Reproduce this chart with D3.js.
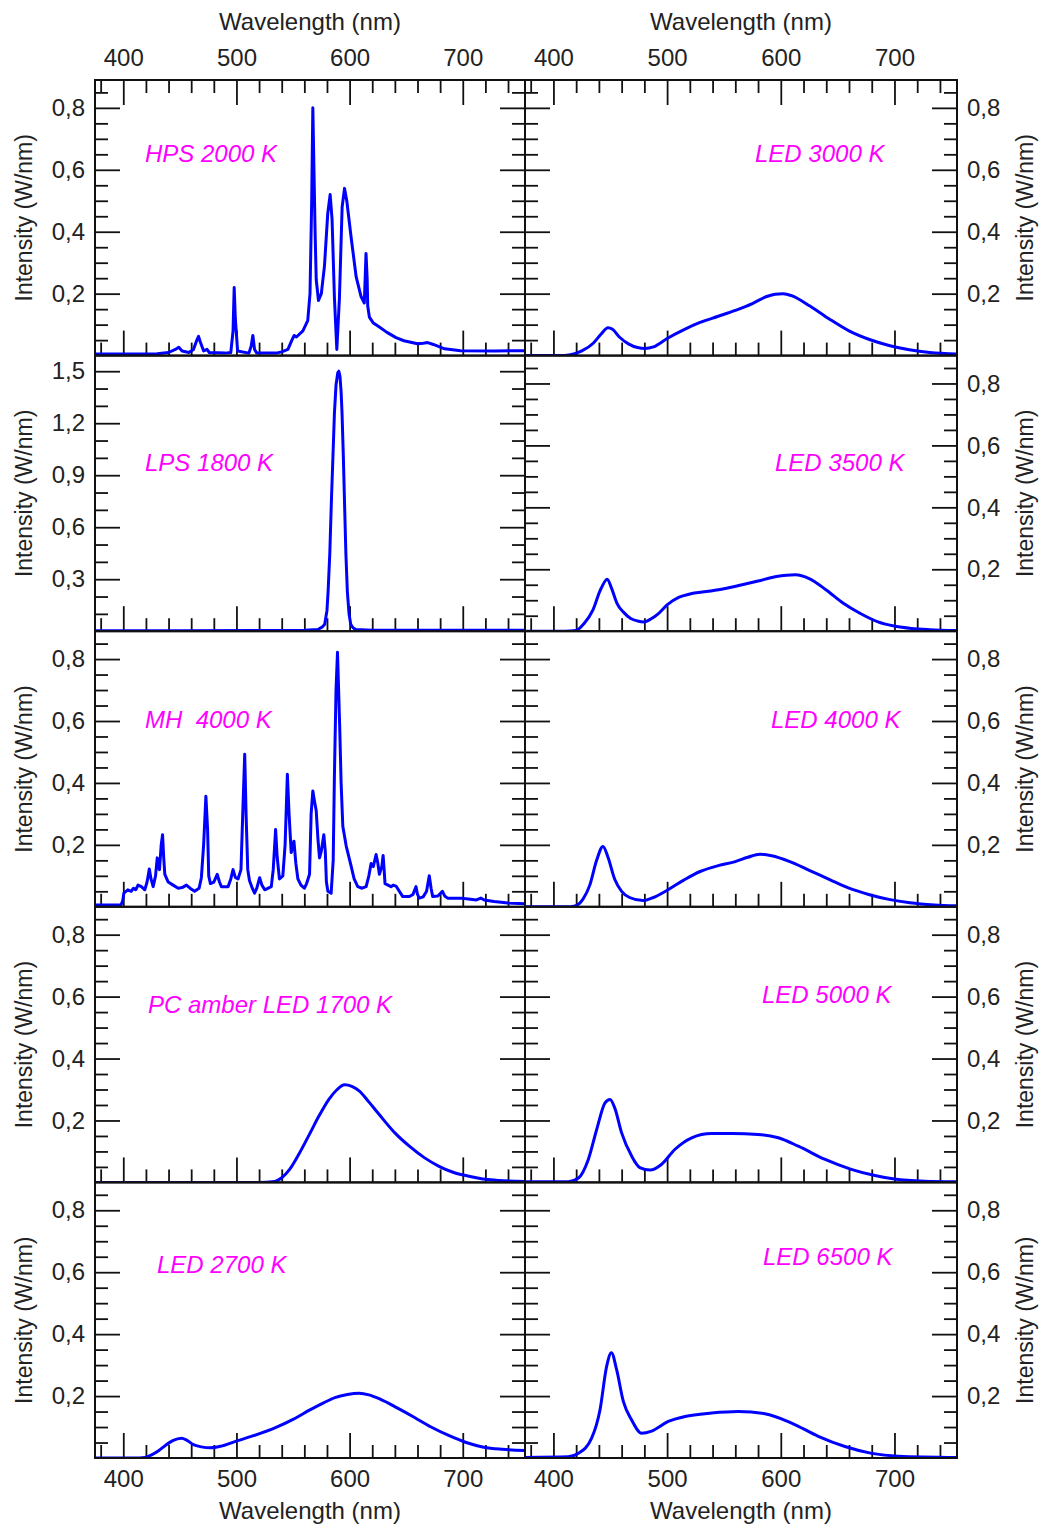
<!DOCTYPE html>
<html>
<head>
<meta charset="utf-8">
<script src="https://cdn.jsdelivr.net/npm/d3@7"></script>
<style>
  body { margin: 0; background: #fff; }
  svg text { font-family: "Liberation Sans", Arial, sans-serif; fill: #222; }
</style>
</head>
<body>
<div id="chart"></div>
<script>
// spectra: [wavelength nm, intensity W/nm]
var hps2000 = [[375,0.005],[400,0.005],[430,0.006],[440,0.01],[446,0.02],[449,0.027],[452,0.015],[458,0.01],[462,0.02],[465,0.05],[466.5,0.062],[468,0.045],[471,0.015],[474,0.02],[476,0.01],[490,0.008],[495,0.01],[497,0.08],[498,0.22],[499,0.12],[501,0.015],[511,0.008],[513,0.03],[514.5,0.065],[516,0.02],[518,0.008],[535,0.008],[540,0.012],[545.5,0.02],[549,0.05],[551,0.065],[553,0.06],[558.7,0.08],[563,0.113],[565,0.2],[566.5,0.5],[567.5,0.8],[568.5,0.6],[569.5,0.4],[570.5,0.245],[572.5,0.178],[575,0.2],[577.8,0.29],[580.7,0.46],[582.8,0.52],[584.5,0.44],[586.6,0.185],[588.7,0.02],[591,0.185],[593.4,0.48],[595.5,0.54],[597.5,0.5],[601.3,0.383],[605.8,0.254],[610.2,0.19],[613,0.17],[614.5,0.33],[615.5,0.25],[616,0.16],[617.5,0.124],[621,0.105],[626.3,0.092],[633,0.075],[641,0.058],[648,0.048],[654,0.043],[660,0.038],[665,0.04],[669,0.042],[674,0.036],[684,0.022],[698,0.016],[728,0.015],[755,0.016]];

var lps1800 = [[375,0.003],[450,0.003],[560,0.005],[572,0.01],[576,0.025],[578,0.04],[580,0.12],[581,0.23],[582.5,0.45],[584,0.77],[585.5,1.05],[586.6,1.26],[588,1.42],[589.5,1.49],[590.5,1.5],[591.5,1.47],[592.5,1.38],[593.3,1.26],[594.5,1.0],[595.4,0.77],[596.7,0.45],[598,0.23],[599.5,0.1],[601,0.04],[603,0.02],[605.5,0.01],[620,0.006],[700,0.005],[755,0.006]];

var mh4000 = [[375,0.006],[398,0.006],[399.5,0.02],[400.5,0.044],[404,0.055],[407,0.05],[409,0.06],[411,0.055],[413,0.07],[416,0.065],[419,0.055],[421,0.08],[423,0.122],[424.5,0.09],[426.4,0.065],[428.5,0.1],[430,0.158],[431,0.13],[432,0.12],[433.5,0.2],[434.7,0.233],[435.7,0.16],[436.7,0.105],[439.7,0.08],[444,0.07],[448.5,0.06],[452,0.062],[455.8,0.07],[459,0.06],[463,0.05],[467,0.06],[469,0.094],[471,0.2],[473,0.357],[474.5,0.25],[475.5,0.1],[477,0.075],[480,0.08],[483,0.105],[485,0.08],[486.7,0.065],[492.6,0.065],[495,0.09],[497,0.12],[499,0.095],[501.4,0.09],[504,0.12],[506,0.35],[507.3,0.493],[508.5,0.3],[510,0.12],[511.5,0.085],[514,0.06],[516,0.044],[518,0.06],[520.5,0.094],[522.5,0.07],[525,0.055],[530.8,0.065],[532.5,0.12],[534.6,0.25],[536,0.16],[538,0.09],[541,0.1],[543,0.2],[545,0.428],[546.5,0.3],[548.4,0.175],[550.8,0.212],[552.5,0.14],[554.3,0.09],[557,0.07],[560,0.06],[562,0.075],[564.6,0.105],[566,0.3],[567.5,0.374],[569,0.34],[570.5,0.31],[572,0.22],[573.4,0.158],[575,0.18],[577.2,0.233],[578.5,0.18],[579.5,0.08],[580.8,0.05],[583.7,0.044],[585.5,0.15],[586.6,0.43],[588,0.7],[589.3,0.822],[590.3,0.7],[591.3,0.574],[592.5,0.4],[594,0.26],[597,0.196],[601.3,0.132],[604,0.09],[607.2,0.065],[611,0.06],[614.6,0.065],[617,0.1],[619,0.14],[621,0.13],[623.4,0.169],[625,0.14],[626.3,0.105],[628.5,0.13],[629.6,0.166],[630.5,0.12],[631.3,0.075],[636.6,0.065],[638.5,0.07],[641,0.067],[644,0.05],[647,0.033],[652.8,0.033],[656,0.04],[658.7,0.065],[660,0.04],[661.6,0.028],[665,0.032],[668,0.05],[670.4,0.1],[672,0.06],[673.4,0.033],[678,0.035],[682,0.05],[684,0.035],[686.6,0.028],[698,0.028],[705,0.025],[712,0.022],[716,0.028],[719,0.022],[727.7,0.017],[740,0.012],[755,0.01]];

var pcAmber1700 = [[375,0],[520,0],[533.7,0.003],[540,0.015],[547,0.042],[555,0.09],[564.6,0.156],[573,0.215],[582,0.27],[589,0.3],[595.5,0.315],[602,0.31],[608.7,0.295],[617,0.26],[626,0.22],[640,0.16],[652.8,0.117],[666,0.08],[679,0.052],[692,0.032],[705.7,0.02],[720,0.01],[732,0.006],[755,0.003]];

var led2700 = [[375,0],[410,0],[419,0.002],[425,0.01],[431.5,0.024],[437,0.04],[443.7,0.056],[451.3,0.064],[456,0.058],[462,0.043],[469,0.036],[477,0.033],[486,0.038],[498.6,0.053],[515,0.072],[535,0.099],[550,0.125],[565.8,0.157],[577,0.178],[587,0.195],[598,0.205],[608.5,0.209],[617,0.204],[627,0.19],[642,0.162],[657.4,0.131],[672,0.1],[688,0.072],[703,0.05],[718.5,0.035],[735,0.028],[755,0.024]];

var led3000 = [[375,0],[405,0],[415,0.003],[425,0.015],[435,0.04],[442,0.07],[448,0.09],[452,0.085],[458,0.06],[466,0.038],[474,0.026],[480.5,0.023],[488,0.028],[500,0.055],[514,0.082],[529,0.107],[545,0.127],[560,0.146],[575,0.168],[587,0.19],[595,0.198],[602,0.2],[610,0.193],[625.6,0.16],[642,0.12],[660,0.08],[678,0.052],[696,0.032],[713,0.019],[731,0.01],[755,0.005]];

var led3500 = [[375,0],[410,0],[419.6,0.002],[427,0.025],[434.7,0.068],[441,0.13],[447.4,0.168],[451,0.14],[455.9,0.09],[462,0.06],[468,0.041],[474,0.033],[480,0.03],[486,0.04],[492.4,0.057],[500,0.085],[510.6,0.11],[520,0.12],[534.7,0.128],[550,0.137],[565,0.149],[580,0.162],[595,0.176],[605,0.181],[612.7,0.182],[625,0.17],[640,0.133],[655,0.09],[670,0.057],[685.5,0.03],[700.6,0.016],[715,0.009],[731,0.005],[755,0.002]];

var led4000 = [[375,0],[412,0],[419,0.003],[426,0.025],[432,0.07],[438,0.15],[443.6,0.195],[448,0.16],[454,0.088],[460,0.05],[467,0.03],[478.8,0.02],[488,0.03],[500.8,0.055],[515,0.087],[529,0.114],[545,0.133],[560,0.146],[571,0.16],[581.7,0.17],[592,0.165],[608,0.146],[625,0.118],[643,0.088],[660,0.06],[678,0.039],[695,0.024],[713.6,0.013],[735,0.006],[755,0.003]];

var led5000 = [[375,0.002],[413,0.002],[422,0.014],[430.7,0.074],[438,0.17],[445.4,0.257],[449.8,0.268],[454,0.24],[460,0.16],[468.8,0.085],[476,0.048],[485,0.04],[495,0.058],[507,0.107],[521.6,0.144],[539,0.158],[556.8,0.158],[580,0.155],[597.8,0.144],[615.4,0.117],[639,0.074],[662,0.042],[682.8,0.022],[700,0.011],[726.8,0.004],[755,0.002]];

var led6500 = [[375,0.002],[413,0.004],[422,0.015],[433.6,0.064],[441,0.156],[446.8,0.296],[451,0.34],[455.6,0.285],[461.5,0.183],[468.8,0.123],[477.6,0.08],[486.4,0.087],[501,0.118],[515.7,0.134],[539,0.145],[562.6,0.15],[586,0.143],[609.5,0.113],[633,0.07],[656.4,0.037],[680,0.015],[703.3,0.006],[755,0.002]];

// lamp names, in panel order (left column top to bottom, then right column)
var lampNames = ["HPS 2000 K", "LPS 1800 K", "MH  4000 K", "PC amber LED 1700 K", "LED 2700 K",
                 "LED 3000 K", "LED 3500 K", "LED 4000 K", "LED 5000 K", "LED 6500 K"];
var lampData = [hps2000, lps1800, mh4000, pcAmber1700, led2700,
                led3000, led3500, led4000, led5000, led6500];

// ticks
var xDomain = [375, 755];
var xMajor = [400, 500, 600, 700];
var xMinor = [380, 420, 440, 460, 480, 520, 540, 560, 580, 620, 640, 660, 680, 720, 740];
var yMajorSmall = [0.2, 0.4, 0.6, 0.8];
var yMinorSmall = [0.05, 0.1, 0.15, 0.25, 0.3, 0.35, 0.45, 0.5, 0.55, 0.65, 0.7, 0.75, 0.85];
var yMajorLps = [0.3, 0.6, 0.9, 1.2, 1.5];
var yMinorLps = [0.1, 0.2, 0.4, 0.5, 0.7, 0.8, 1.0, 1.1, 1.3, 1.4];
var xTitle = "Wavelength (nm)";
var yTitle = "Intensity (W/nm)";

// layout
var width = 1040, height = 1526;
var colLeft = [95, 525], colWidth = [430, 432];
var rowTop = 80, rowH = 275.6, nRows = 5;
var majorLen = 25, minorLen = 13;
// label offsets inside each panel: [dx, dy of baseline]
var labelPos = [[50, 81.5], [50, 115], [50, 97.3], [53, 106.7], [62, 91],
                [230, 81.5], [250, 115], [246, 97.3], [237, 96.7], [238, 83]];
var smoothLine = [false, false, false, true, true, true, true, true, true, true];

var fmt = function(d) { return d3.format(".1f")(d).replace(".", ","); };

var svg = d3.select("#chart").append("svg")
    .attr("width", width)
    .attr("height", height);

svg.append("defs").selectAll("clipPath")
    .data([0, 1]).enter().append("clipPath")
    .attr("id", function(d) { return "clip" + d; })
  .append("rect")
    .attr("width", function(d) { return colWidth[d]; })
    .attr("height", rowH);

lampData.forEach(function(data, i) {
  var col = i < nRows ? 0 : 1,
      row = i % nRows,
      w = colWidth[col],
      h = rowH,
      isLps = (i === 1);

  var x = d3.scaleLinear().domain(xDomain).range([0, w]);
  var y = d3.scaleLinear().domain([0, isLps ? 1.59 : 0.89]).range([h, 0]);

  var g = svg.append("g")
      .attr("transform", "translate(" + colLeft[col] + "," + (rowTop + row * h) + ")");

  // bottom ticks (pointing in)
  g.append("g").attr("class", "axis")
      .attr("transform", "translate(0," + h + ")")
      .call(d3.axisBottom(x).tickValues(xMinor).tickSize(-minorLen).tickFormat(""));
  g.append("g").attr("class", "axis xlab")
      .attr("transform", "translate(0," + h + ")")
      .call(d3.axisBottom(x).tickValues(xMajor).tickSize(-majorLen).tickPadding(12)
        .tickFormat(row === nRows - 1 ? d3.format("d") : ""));

  // top ticks only on the first row
  if (row === 0) {
    g.append("g").attr("class", "axis")
        .call(d3.axisTop(x).tickValues(xMinor).tickSize(-minorLen).tickFormat(""));
    g.append("g").attr("class", "axis xlab")
        .call(d3.axisTop(x).tickValues(xMajor).tickSize(-majorLen).tickPadding(14)
          .tickFormat(d3.format("d")));
  }

  var yMaj = isLps ? yMajorLps : yMajorSmall,
      yMin = isLps ? yMinorLps : yMinorSmall;

  // left and right ticks, labels on the outer side only
  g.append("g").attr("class", "axis")
      .call(d3.axisLeft(y).tickValues(yMin).tickSize(-minorLen).tickFormat(""));
  g.append("g").attr("class", "axis ylab")
      .call(d3.axisLeft(y).tickValues(yMaj).tickSize(-majorLen).tickPadding(10)
        .tickFormat(col === 0 ? fmt : ""));
  g.append("g").attr("class", "axis")
      .attr("transform", "translate(" + w + ",0)")
      .call(d3.axisRight(y).tickValues(yMin).tickSize(-minorLen).tickFormat(""));
  g.append("g").attr("class", "axis ylab")
      .attr("transform", "translate(" + w + ",0)")
      .call(d3.axisRight(y).tickValues(yMaj).tickSize(-majorLen).tickPadding(10)
        .tickFormat(col === 1 ? fmt : ""));

  // spectrum
  var line = d3.line()
      .x(function(d) { return x(d[0]); })
      .y(function(d) { return y(d[1]); })
      .curve(smoothLine[i] ? d3.curveMonotoneX : d3.curveLinear);

  g.append("path")
      .datum(data)
      .attr("clip-path", "url(#clip" + col + ")")
      .attr("fill", "none")
      .attr("stroke", "#0000ff")
      .attr("stroke-width", 3)
      .attr("stroke-linejoin", "round")
      .attr("d", line);

  // frame
  g.append("rect")
      .attr("width", w)
      .attr("height", h)
      .attr("fill", "none")
      .attr("stroke", "#111")
      .attr("stroke-width", 2);

  // lamp label
  g.append("text")
      .attr("x", labelPos[i][0])
      .attr("y", labelPos[i][1])
      .style("white-space", "pre")
      .style("font-style", "italic")
      .style("font-size", "24px")
      .style("fill", "#ff00ff")
      .text(lampNames[i]);

  // y title
  g.append("text")
      .attr("transform", "translate(" + (col === 0 ? -71 : w + 68) + "," + (h / 2) + ") rotate(-90)")
      .attr("dy", "0.35em")
      .attr("text-anchor", "middle")
      .style("font-size", "23px")
      .text(yTitle);

  // x titles
  if (row === 0) {
    g.append("text")
        .attr("x", w / 2).attr("y", -50)
        .attr("text-anchor", "middle")
        .style("font-size", "24px")
        .text(xTitle);
  }
  if (row === nRows - 1) {
    g.append("text")
        .attr("x", w / 2).attr("y", h + 61)
        .attr("text-anchor", "middle")
        .style("font-size", "24px")
        .text(xTitle);
  }
});

svg.selectAll(".axis .domain").remove();
svg.selectAll(".axis line").attr("stroke", "#111").attr("stroke-width", 1.8);
svg.selectAll(".axis text")
    .style("font-size", "24px")
    .style("font-family", "'Liberation Sans', Arial, sans-serif")
    .attr("fill", "#222");
</script>
</body>
</html>
